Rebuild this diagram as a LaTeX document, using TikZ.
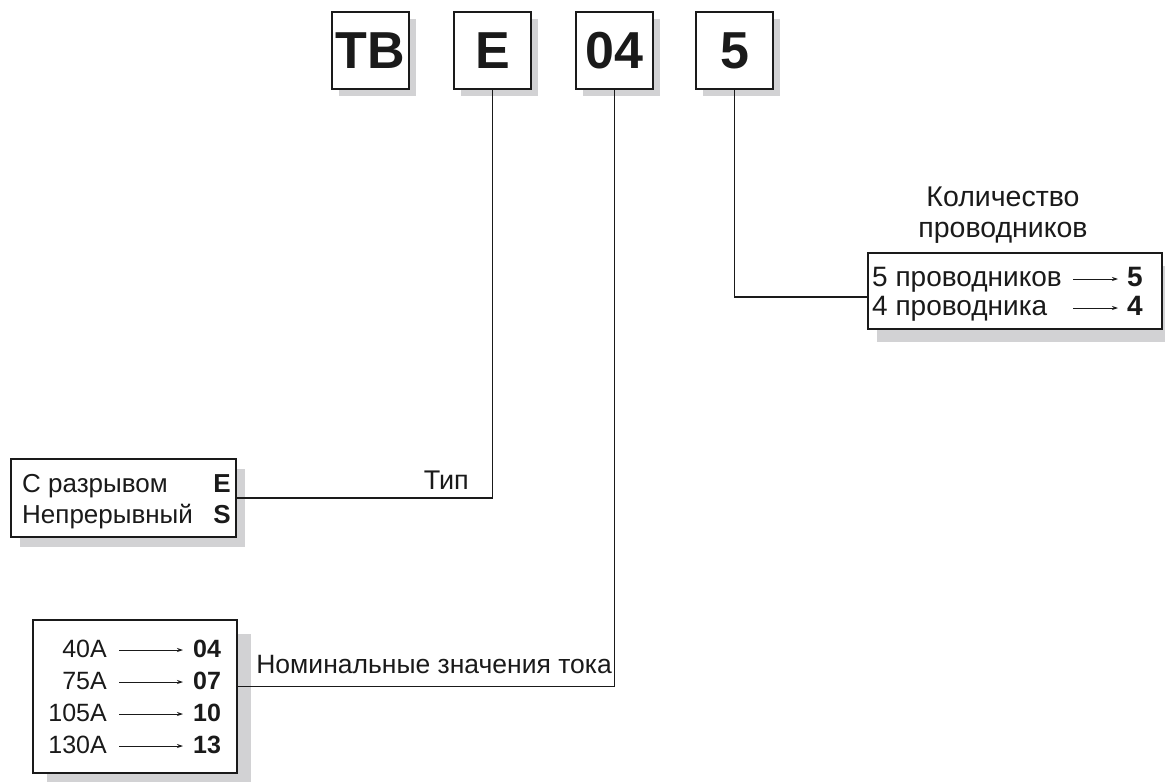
\documentclass[tikz,border=0pt]{standalone}
\usepackage{fontspec}
\setmainfont{Liberation Sans}
\usetikzlibrary{shadows,arrows.meta}
\definecolor{ink}{RGB}{26,26,26}
\definecolor{shadowc}{RGB}{210,210,212}
\tikzset{
  box/.style={draw=ink, line width=1.2pt, fill=white, inner sep=0pt, text=ink},
  shad/.style 2 args={drop shadow={shadow xshift=#1pt, shadow yshift=-#2pt, fill=shadowc, opacity=1}},
  code/.style={box, minimum width=77pt, minimum height=77pt, font=\fontsize{52}{60}\selectfont\bfseries, shad={7}{7}},
  conn/.style={draw=ink, line width=1.1pt},
  arr/.style={draw=ink, line width=0.8pt, -{Stealth[length=6pt,width=4pt]}},
  lblt/.style={text=ink, inner sep=0pt, font=\fontsize{26}{30}\selectfont},
  lblw/.style={text=ink, inner sep=0pt, font=\fontsize{28}{32}\selectfont},
  lbls/.style={text=ink, inner sep=0pt, font=\fontsize{25}{30}\selectfont},
}
\begin{document}
\begin{tikzpicture}[x=1pt,y=-1pt]
\useasboundingbox (0,0) rectangle (1165,782);
% top code boxes
\node[code] (tb) at (370.5,50.5) {TB};
\node[code] (eb) at (492.5,50.5) {E};
\node[code] (ob) at (614.5,50.5) {04};
\node[code] (vb) at (734.5,50.5) {5};
% type box
\node[box, minimum width=225pt, minimum height=78pt, shad={9}{10}] (typ) at (123.5,498) {};
\node[lblt, anchor=base west] (t1) at (22,492) {С разрывом};
\node[lblt, anchor=base east, font=\fontsize{26}{30}\selectfont\bfseries] (t1v) at (231,492) {E};
\node[lblt, anchor=base west] (t2) at (22,523) {Непрерывный};
\node[lblt, anchor=base east, font=\fontsize{26}{30}\selectfont\bfseries] (t2v) at (231,523) {S};
\node[lblt, anchor=base east, font=\fontsize{27}{30}\selectfont] (tip) at (469,489) {Тип};
\draw[conn] (typ.east) -| (eb.south);
% current box
\node[box, minimum width=204pt, minimum height=153pt, shad={14}{14}] (cur) at (135,696.5) {};
\foreach \n/\a/\v/\y in {1/40A/04/657, 2/75A/07/689, 3/105A/10/721, 4/130A/13/753}{
  \node[lbls, anchor=base east] (c\n) at (107,\y) {\a};
  \node[lbls, anchor=base west, font=\fontsize{25}{30}\selectfont\bfseries] (c\n v) at (193,\y) {\v};
  \coordinate (c\n s) at (119,\y-7);
  \coordinate (c\n e) at (183,\y-7);
  \draw[arr] (c\n s) -- (c\n e);
}
\node[lblt, anchor=base east, font=\fontsize{26.5}{30}\selectfont] (nom) at (612,673) {Номинальные значения тока};
\draw[conn] ([yshift=10pt]cur.east) -| (ob.south);
% wires box
\node[lblw, anchor=base, font=\fontsize{28.5}{32}\selectfont] (k1) at (1003,206) {Количество};
\node[lblw, anchor=base, font=\fontsize{28.5}{32}\selectfont] (k2) at (1003,237) {проводников};
\node[box, minimum width=294pt, minimum height=76pt, shad={9}{13}] (wir) at (1015,291) {};
\node[lblw, anchor=base west] (w1) at (872,286) {5 проводников};
\node[lblw, anchor=base west, font=\fontsize{28}{32}\selectfont\bfseries] (w1v) at (1127,286) {5};
\node[lblw, anchor=base west] (w2) at (872,315) {4 проводника};
\node[lblw, anchor=base west, font=\fontsize{28}{32}\selectfont\bfseries] (w2v) at (1127,315) {4};
\coordinate (w1s) at (1073,279);
\coordinate (w1e) at (1118,279);
\coordinate (w2s) at (1073,308);
\coordinate (w2e) at (1118,308);
\draw[arr] (w1s) -- (w1e);
\draw[arr] (w2s) -- (w2e);
\draw[conn] (vb.south) |- ([yshift=-6pt]wir.west);
\end{tikzpicture}
\end{document}
